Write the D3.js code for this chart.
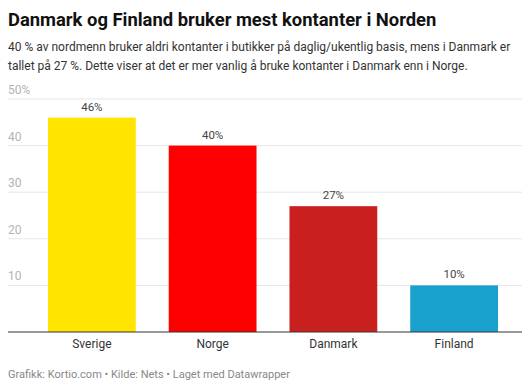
<!DOCTYPE html>
<html>
<head>
<meta charset="utf-8">
<script src="https://cdn.jsdelivr.net/npm/d3@7"></script>
<style>
  body { margin: 0; background: #fff; font-family: Roboto, "Noto Sans", sans-serif; }
</style>
</head>
<body>
<svg id="chart" width="530" height="388"></svg>
<script>
'use strict';

var countries = ['Sverige', 'Norge', 'Danmark', 'Finland'];
var values = [46, 40, 27, 10];
var colors = ['#ffe400', '#ff0000', '#c91f1f', '#18a1cd'];
var yTicks = [10, 20, 30, 40, 50];

var svg = d3.select('#chart');

// title + description
svg.append('text')
	.attr('x', 8).attr('y', 26)
	.attr('font-size', 18.4).attr('font-weight', 700).attr('fill', '#111')
	.text('Danmark og Finland bruker mest kontanter i Norden');

var desc = [
	'40 % av nordmenn bruker aldri kontanter i butikker på daglig/ukentlig basis, mens i Danmark er',
	'tallet på 27 %. Dette viser at det er mer vanlig å bruke kontanter i Danmark enn i Norge.'
];
svg.selectAll('text.desc')
	.data(desc)
	.enter()
	.append('text')
	.attr('class', 'desc')
	.attr('x', 8)
	.attr('y', function(d, i) { return 51 + i * 19; })
	.attr('font-size', 12).attr('fill', '#333')
	.text(function(d) { return d; });

var x = d3.scaleBand()
	.domain(countries)
	.range([31.5, 514.5])
	.paddingInner(0.273)
	.paddingOuter(0.1365);

var y = d3.scaleLinear()
	.domain([0, 50])
	.range([332, 99]);

// gridlines and tick labels
var grid = svg.append('g');
grid.selectAll('line')
	.data(yTicks)
	.enter()
	.append('line')
	.attr('x1', 8).attr('x2', 522)
	.attr('y1', function(d) { return y(d); })
	.attr('y2', function(d) { return y(d); })
	.attr('stroke', '#e6e6e6').attr('stroke-width', 1);

grid.selectAll('text')
	.data(yTicks)
	.enter()
	.append('text')
	.attr('x', 8)
	.attr('y', function(d) { return y(d) - 5; })
	.attr('font-size', 12).attr('fill', '#b3b3b3')
	.text(function(d) { return d === 50 ? d + '%' : d; });

// bars
var bars = svg.append('g');
bars.selectAll('rect')
	.data(values)
	.enter()
	.append('rect')
	.attr('x', function(d, i) { return x(countries[i]); })
	.attr('y', function(d) { return y(d); })
	.attr('width', x.bandwidth())
	.attr('height', function(d) { return y(0) - y(d); })
	.attr('fill', function(d, i) { return colors[i]; });

bars.selectAll('text')
	.data(values)
	.enter()
	.append('text')
	.attr('x', function(d, i) { return x(countries[i]) + x.bandwidth() / 2; })
	.attr('y', function(d) { return y(d) - 7; })
	.attr('text-anchor', 'middle')
	.attr('font-size', 11.5).attr('fill', '#444')
	.text(function(d) { return d + '%'; });

// baseline
svg.append('line')
	.attr('x1', 8).attr('x2', 522)
	.attr('y1', y(0)).attr('y2', y(0))
	.attr('stroke', '#333').attr('stroke-width', 1);

// x axis labels
svg.append('g').selectAll('text')
	.data(countries)
	.enter()
	.append('text')
	.attr('x', function(d) { return x(d) + x.bandwidth() / 2; })
	.attr('y', 348)
	.attr('text-anchor', 'middle')
	.attr('font-size', 12).attr('fill', '#333')
	.text(function(d) { return d; });

// footer
svg.append('text')
	.attr('x', 8).attr('y', 378)
	.attr('font-size', 11).attr('fill', '#888')
	.text('Grafikk: Kortio.com \u2022 Kilde: Nets \u2022 Laget med Datawrapper');
</script>
</body>
</html>
